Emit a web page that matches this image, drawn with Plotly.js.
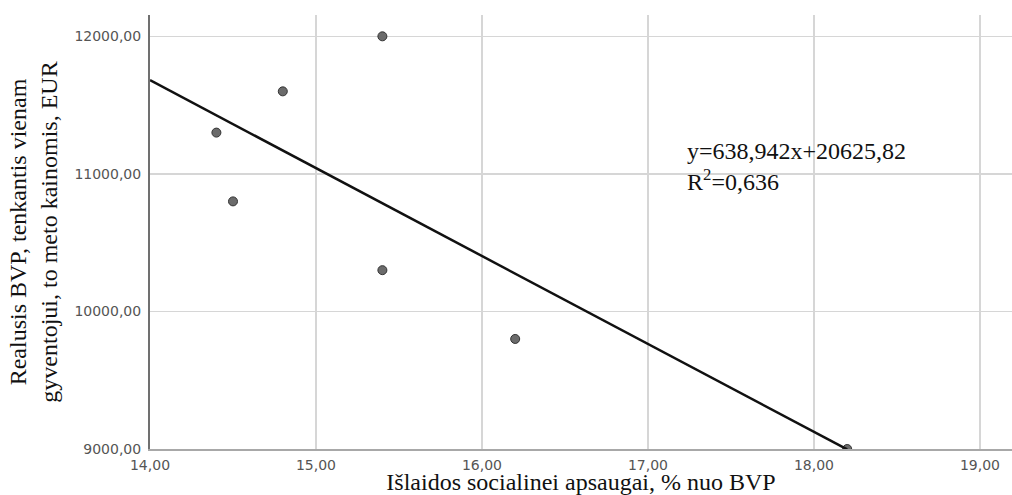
<!DOCTYPE html>
<html>
<head>
<meta charset="utf-8">
<script src="https://cdn.plot.ly/plotly-3.0.1.min.js"></script>
<style>html,body{margin:0;padding:0;background:#fff;}#chart{width:1012px;height:495px;}</style>
</head>
<body>
<div id="chart"></div>
<script>
// Data
const spending = [14.4, 14.5, 14.8, 15.4, 15.4, 16.2, 18.2];      // % of GDP
const gdpPerCapita = [11300, 10800, 11600, 12000, 10300, 9800, 9000]; // EUR
// Fit line endpoints (linear fit shown in chart)
const fitX = [14.0, 18.2];
const fitY = [11681, 8997];
const xTicks = [14, 15, 16, 17, 18, 19];
const xTickText = ["14,00", "15,00", "16,00", "17,00", "18,00", "19,00"];
const yTicks = [9000, 10000, 11000, 12000];
const yTickText = ["9000,00", "10000,00", "11000,00", "12000,00"];
const eqText = "y=638,942x+20625,82<br>R<sup>2</sup>=0,636";

const serif = "Liberation Serif, Times New Roman, serif";
const sans = "DejaVu Sans, Arial, sans-serif";

const traces = [
  {
    x: spending, y: gdpPerCapita, type: "scatter", mode: "markers",
    marker: {size: 9, color: "#6b6b6b", line: {color: "#333", width: 1}},
    cliponaxis: true, showlegend: false, hoverinfo: "x+y"
  },
  {
    x: fitX, y: fitY, type: "scatter", mode: "lines",
    line: {color: "#111", width: 2.5}, showlegend: false, hoverinfo: "skip"
  }
];

const layout = {
  width: 1012, height: 495,
  margin: {l: 150, r: 0, t: 15, b: 46},
  paper_bgcolor: "#fff", plot_bgcolor: "#fff",
  showlegend: false,
  xaxis: {
    range: [14, 19.193], tickvals: xTicks, ticktext: xTickText,
    showgrid: true, gridcolor: "#d6d6d6", gridwidth: 1.5,
    zeroline: false, showline: true, linecolor: "#a8a8a8", linewidth: 2,
    ticks: "", ticklabelstandoff: 2,
    tickfont: {family: sans, size: 14, color: "#555"},
    title: {text: "Išlaidos socialinei apsaugai, % nuo BVP", font: {family: serif, size: 24, color: "#111"}, standoff: 5},
    automargin: false, fixedrange: true
  },
  yaxis: {
    range: [9000, 12155], tickvals: yTicks, ticktext: yTickText,
    showgrid: true, gridcolor: "#d6d6d6", gridwidth: 1.5,
    zeroline: false, showline: true, linecolor: "#707070", linewidth: 2,
    ticks: "", ticklabelstandoff: 4,
    tickfont: {family: sans, size: 14, color: "#555"},
    title: {text: "Realusis BVP, tenkantis vienam<br>gyventojui, to meto kainomis, EUR", font: {family: serif, size: 24, color: "#111"}, standoff: 10},
    automargin: false, fixedrange: true
  },
  shapes: [
    {type: "rect", xref: "paper", yref: "paper", x0: 0.5998, x1: 0.9316, y0: 0.562, y1: 0.735,
     fillcolor: "#fff", line: {width: 0}, layer: "between"}
  ],
  annotations: [
    {xref: "paper", yref: "paper", x: 0.6206, y: 0.652, xanchor: "left", yanchor: "middle",
     text: eqText, showarrow: false, align: "left",
     font: {family: serif, size: 24, color: "#111"}}
  ]
};

Plotly.newPlot("chart", traces, layout, {displayModeBar: false, staticPlot: true});
</script>
</body>
</html>
